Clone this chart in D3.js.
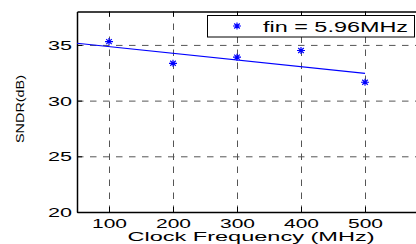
<!DOCTYPE html>
<html>
<head>
<meta charset="utf-8">
<script src="https://cdn.jsdelivr.net/npm/d3@7"></script>
<style>
  body { margin: 0; background: #fff; }
  text { font-family: "Liberation Sans", Arial, Helvetica, sans-serif; fill: #000; }
  .grid line { stroke: #555; stroke-dasharray: 6.5,6.5; stroke-width: 1; }
  .grid path { display: none; }
</style>
</head>
<body>
<div id="chart"></div>
<script>
// SNDR vs clock frequency, fin = 5.96 MHz
const width = 416;
const height = 244;

const clockMHz = [100, 200, 300, 400, 500];
const sndrDb = [35.3, 33.35, 33.9, 34.5, 31.65];
// linear fit drawn as a line, endpoints
const fitX = [50, 500];
const fitY = [35.15, 32.45];
const xTicks = [100, 200, 300, 400, 500];
const yTicks = [20, 25, 30, 35];
const legendLabel = "fin = 5.96MHz";

const xScale = d3.scaleLinear().domain([50, 600]).range([77, 429]);
const yScale = d3.scaleLinear().domain([20, 38]).range([212, 11.5]);

const svg = d3.select("#chart")
  .append("svg")
  .attr("width", width)
  .attr("height", height);

// grid
svg.append("g")
  .attr("class", "grid")
  .attr("transform", `translate(0, ${yScale(20)})`)
  .call(d3.axisBottom(xScale).tickValues(xTicks).tickSize(-(yScale(20) - yScale(38))).tickFormat(""));

svg.append("g")
  .attr("class", "grid")
  .attr("transform", `translate(${xScale(50)}, 0)`)
  .call(d3.axisLeft(yScale).tickValues([25, 30, 35]).tickSize(-(xScale(600) - xScale(50))).tickFormat(""));

// inward ticks on top and bottom
const bottomAxis = svg.append("g")
  .attr("transform", `translate(0, ${yScale(20)})`)
  .call(d3.axisBottom(xScale).tickValues(xTicks).tickSizeInner(-5).tickSizeOuter(0));
bottomAxis.select(".domain").attr("stroke-width", 1.5);
bottomAxis.selectAll("text")
  .attr("font-size", 12.5)
  .attr("y", 7)
  .attr("textLength", 35)
  .attr("lengthAdjust", "spacingAndGlyphs");

const topAxis = svg.append("g")
  .attr("transform", `translate(0, ${yScale(38)})`)
  .call(d3.axisTop(xScale).tickValues(xTicks).tickSizeInner(-5).tickSizeOuter(0).tickFormat(""));
topAxis.select(".domain").attr("stroke-width", 1.5);

const leftAxis = svg.append("g")
  .attr("transform", `translate(${xScale(50)}, 0)`)
  .call(d3.axisLeft(yScale).tickValues(yTicks).tickSizeInner(-5).tickSizeOuter(0).tickPadding(5));
leftAxis.select(".domain").attr("stroke-width", 1.5);
leftAxis.selectAll("text")
  .attr("font-size", 12.5)
  .attr("dy", "0.36em")
  .attr("textLength", 24)
  .attr("lengthAdjust", "spacingAndGlyphs");

// axis titles
svg.append("text")
  .attr("x", 251)
  .attr("y", 241)
  .attr("text-anchor", "middle")
  .attr("font-size", 12.5)
  .attr("textLength", 247)
  .attr("lengthAdjust", "spacingAndGlyphs")
  .text("Clock Frequency (MHz)");

svg.append("text")
  .attr("transform", "translate(24, 109) rotate(-90)")
  .attr("text-anchor", "middle")
  .attr("font-size", 11)
  .attr("textLength", 68)
  .attr("lengthAdjust", "spacingAndGlyphs")
  .text("SNDR(dB)");

// fit line
const fitData = fitX.map((x, i) => ({ x, y: fitY[i] }));
svg.append("path")
  .datum(fitData)
  .attr("fill", "none")
  .attr("stroke", "#0000ff")
  .attr("stroke-width", 1.2)
  .attr("d", d3.line().x(d => xScale(d.x)).y(d => yScale(d.y)));

// asterisk markers
const star = "M-4,0H4M0,-3.5V3.5M-2.8,-2.5L2.8,2.5M-2.8,2.5L2.8,-2.5";
svg.selectAll(".pt")
  .data(clockMHz.map((x, i) => ({ x, y: sndrDb[i] })))
  .join("path")
  .attr("class", "pt")
  .attr("transform", d => `translate(${xScale(d.x)}, ${yScale(d.y)})`)
  .attr("d", star)
  .attr("stroke", "#0000ff")
  .attr("stroke-width", 1.2)
  .attr("fill", "none");

// legend
const legend = svg.append("g");
legend.append("rect")
  .attr("x", 207.5).attr("y", 15.5)
  .attr("width", 207).attr("height", 21.5)
  .attr("fill", "#fff").attr("stroke", "#000").attr("stroke-width", 1);
legend.append("path")
  .attr("transform", "translate(237, 26)")
  .attr("d", star)
  .attr("stroke", "#0000ff")
  .attr("stroke-width", 1.2)
  .attr("fill", "none");
legend.append("text")
  .attr("x", 263)
  .attr("y", 32)
  .attr("font-size", 15.5)
  .attr("textLength", 145)
  .attr("lengthAdjust", "spacingAndGlyphs")
  .text(legendLabel);
</script>
</body>
</html>
